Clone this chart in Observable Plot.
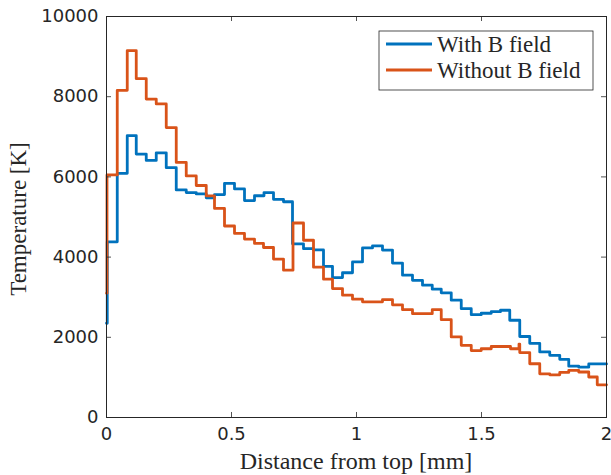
<!DOCTYPE html>
<html><head><meta charset="utf-8">
<script src="https://cdn.jsdelivr.net/npm/d3@7"></script>
<script src="https://cdn.jsdelivr.net/npm/@observablehq/plot@0.6"></script>
<style>body{margin:0;background:#fff}#chart{width:611px;height:475px}</style>
</head><body><div id="chart"></div>
<script>
// Distance from top [mm] (step starts) and temperature [K]
const blueX = [0, 0.003, 0.043, 0.083, 0.119, 0.159, 0.199, 0.239, 0.279, 0.319, 0.359, 0.399, 0.432, 0.472, 0.512, 0.552, 0.592, 0.630, 0.668, 0.708, 0.744, 0.788, 0.828, 0.868, 0.904, 0.944, 0.984, 1.024, 1.064, 1.104, 1.144, 1.184, 1.224, 1.264, 1.303, 1.339, 1.379, 1.419, 1.459, 1.499, 1.539, 1.576, 1.613, 1.653, 1.693, 1.733, 1.773, 1.813, 1.849, 1.889, 1.929, 2.0];
const blueT = [2350, 4380, 6090, 7030, 6570, 6410, 6600, 6230, 5675, 5610, 5575, 5480, 5560, 5840, 5700, 5410, 5530, 5610, 5440, 5380, 4330, 4210, 4180, 3770, 3490, 3610, 3880, 4230, 4280, 4175, 3850, 3550, 3420, 3300, 3200, 3110, 2925, 2715, 2565, 2600, 2640, 2675, 2425, 2020, 1850, 1635, 1550, 1450, 1280, 1255, 1335, 1335];
const orangeX = [0, 0.002, 0.043, 0.083, 0.119, 0.159, 0.199, 0.239, 0.279, 0.319, 0.359, 0.399, 0.432, 0.472, 0.512, 0.552, 0.592, 0.628, 0.668, 0.708, 0.746, 0.788, 0.828, 0.868, 0.904, 0.944, 0.984, 1.024, 1.064, 1.104, 1.144, 1.184, 1.224, 1.264, 1.303, 1.339, 1.379, 1.419, 1.459, 1.499, 1.539, 1.616, 1.650, 1.653, 1.693, 1.733, 1.773, 1.813, 1.849, 1.889, 1.929, 1.963, 2.0];
const orangeT = [3100, 6050, 8160, 9150, 8450, 7940, 7820, 7230, 6360, 6025, 5785, 5525, 5215, 4775, 4590, 4450, 4340, 4240, 3950, 3675, 4850, 4420, 3750, 3450, 3215, 3050, 2950, 2885, 2885, 2940, 2810, 2690, 2590, 2590, 2690, 2440, 2010, 1800, 1670, 1715, 1770, 1715, 1830, 1620, 1340, 1090, 1065, 1125, 1175, 1135, 1010, 815, 815];
const seriesNames = ["With B field", "Without B field"];
const seriesColors = ["#0072BD", "#D95319"];
const xTicks = [0, 0.5, 1, 1.5, 2];
const xTickLabels = ["0", "0.5", "1", "1.5", "2"];
const yTicks = [0, 2000, 4000, 6000, 8000, 10000];
const yTickLabels = ["0", "2000", "4000", "6000", "8000", "10000"];
const xLabel = "Distance from top [mm]";
const yLabel = "Temperature [K]";

const withB = blueX.map((x, i) => ({x, t: blueT[i]}));
const withoutB = orangeX.map((x, i) => ({x, t: orangeT[i]}));
const axisColor = "#262626";

const chart = Plot.plot({
  width: 611, height: 475,
  marginLeft: 106, marginRight: 5, marginTop: 16, marginBottom: 58,
  x: {domain: [0, 2]},
  y: {domain: [0, 10000]},
  style: {fontFamily: "DejaVu Sans", fontSize: "18px", color: axisColor, background: "#fff", overflow: "visible"},
  marks: [
    Plot.line(withB, {x: "x", y: "t", curve: "step-after", stroke: seriesColors[0], strokeWidth: 2.8}),
    Plot.line(withoutB, {x: "x", y: "t", curve: "step-after", stroke: seriesColors[1], strokeWidth: 2.8}),
    Plot.ruleX(xTicks, {x: d => d, y1: 0, y2: 125, stroke: axisColor, strokeWidth: 0.8}),
    Plot.ruleX(xTicks, {x: d => d, y1: 9875, y2: 10000, stroke: axisColor, strokeWidth: 0.8}),
    Plot.ruleY(yTicks, {y: d => d, x1: 0, x2: 0.02, stroke: axisColor, strokeWidth: 0.8}),
    Plot.ruleY(yTicks, {y: d => d, x1: 1.98, x2: 2, stroke: axisColor, strokeWidth: 0.8}),
    Plot.frame({stroke: axisColor, strokeWidth: 1}),
    Plot.axisX({ticks: xTicks, tickFormat: d => xTickLabels[xTicks.indexOf(d)], tickSize: 0, tickPadding: 10, label: null}),
    Plot.axisY({ticks: yTicks, tickFormat: d => yTickLabels[yTicks.indexOf(d)], tickSize: 0, tickPadding: 8, label: null})
  ]
});
document.getElementById("chart").appendChild(chart);

const svg = d3.select(chart);
const serif = "Liberation Serif";
svg.append("text").attr("x", 356).attr("y", 461).attr("dy", "0.35em")
  .attr("text-anchor", "middle").attr("font-family", serif).attr("font-size", 24)
  .attr("fill", axisColor).text(xLabel);
svg.append("text").attr("transform", "translate(18,219) rotate(-90)").attr("dy", "0.35em")
  .attr("text-anchor", "middle").attr("font-family", serif).attr("font-size", 23)
  .attr("fill", axisColor).text(yLabel);

const lg = svg.append("g");
lg.append("rect").attr("x", 379).attr("y", 31).attr("width", 214).attr("height", 59)
  .attr("fill", "#fff").attr("stroke", axisColor).attr("stroke-width", 0.8);
seriesNames.forEach((name, i) => {
  const y = 44 + i * 26;
  lg.append("line").attr("x1", 386).attr("x2", 432).attr("y1", y).attr("y2", y)
    .attr("stroke", seriesColors[i]).attr("stroke-width", 2.8);
  lg.append("text").attr("x", 437).attr("y", y).attr("dy", "0.33em")
    .attr("text-anchor", "start")
    .attr("font-family", serif).attr("font-size", 23).attr("fill", axisColor).text(name);
});
</script>
</body></html>
